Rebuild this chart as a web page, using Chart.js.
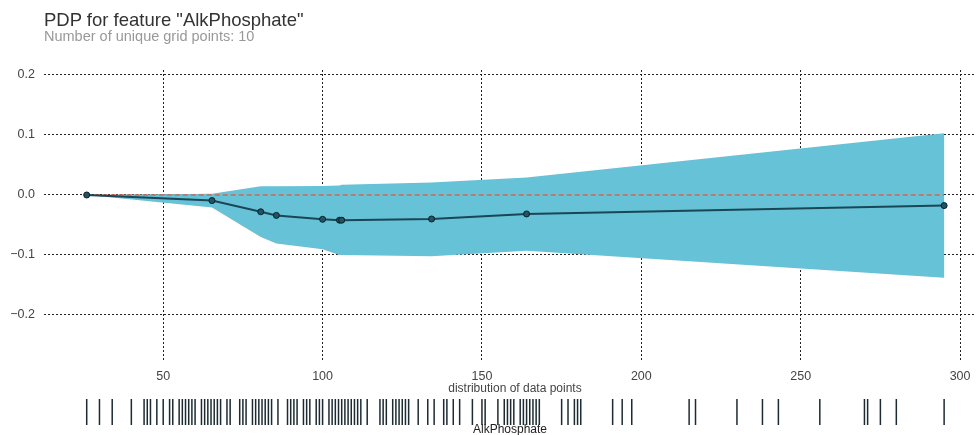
<!DOCTYPE html>
<html>
<head>
<meta charset="utf-8">
<script src="https://cdn.jsdelivr.net/npm/chart.js@4/dist/chart.umd.min.js"></script>
<style>
  html, body { margin: 0; padding: 0; background: #fff; }
  #wrap { position: relative; width: 976px; height: 435px; overflow: hidden; font-family: "Liberation Sans", Arial, sans-serif; }
  .txt { position: absolute; white-space: nowrap; }
  #title { left: 44px; top: 11px; font-size: 18.5px; line-height: 18.5px; color: #333; }
  #subtitle { left: 44px; top: 29px; font-size: 14.5px; line-height: 14.5px; color: #999; }
  #rugTitle { left: 0; width: 1030px; text-align: center; top: 382px; font-size: 12px; line-height: 12px; color: #444; }
  #rugLabel { left: 0; width: 1020px; text-align: center; top: 423px; font-size: 12px; line-height: 12px; color: #222; }
  #mainBox { position: absolute; left: 0; top: 0; width: 976px; height: 385px; }
  #rugBox { position: absolute; left: 0; top: 380px; width: 976px; height: 55px; }
</style>
</head>
<body>
<div id="wrap">
  <div id="mainBox"><canvas id="main" width="976" height="385"></canvas></div>
  <div id="rugBox"><canvas id="rug" width="976" height="55"></canvas></div>
  <div class="txt" id="title">PDP for feature "AlkPhosphate"</div>
  <div class="txt" id="subtitle">Number of unique grid points: 10</div>
  <div class="txt" id="rugTitle">distribution of data points</div>
  <div class="txt" id="rugLabel">AlkPhosphate</div>
</div>
<script>
// ---- data ----
const gridX  = [26, 65.3, 80.6, 85.5, 100, 105.3, 106, 134.2, 164, 295];
const pdpY   = [0, -0.0093, -0.028, -0.034, -0.0405, -0.042, -0.042, -0.040, -0.0316, -0.0177];
const upperY = [0, 0.002, 0.0145, 0.0145, 0.015, 0.016, 0.017, 0.021, 0.029, 0.103];
const lowerY = [0, -0.021, -0.070, -0.081, -0.0904, -0.100, -0.100, -0.102, -0.093, -0.138];
const xTicks = [50, 100, 150, 200, 250, 300];
const yTicks = [-0.2, -0.1, 0, 0.1, 0.2];
const rugValues = [26,30,34,40,44,45,46,48,50,52,53,55,56,57,58,59,60,62,63,64,65,66,67,68,70,71,74,75,76,78,79,80,81,82,83,84,86,89,90,91,92,94,95,96,98,99,100,102,103,104,105,106,107,108,109,110,111,112,114,118,119,120,122,123,124,125,126,127,130,133,135,138,139,141,143,147,150,151,155,157,158,159,160,162,163,164,165,166,167,168,175,177,179,180,181,191,194,197,215,217,230,238,243,256,270,271,275,280,295];

const X_MIN = 12.6, X_MAX = 305;
const Y_MIN = -0.275, Y_MAX = 0.2083;

const pts = (xs, ys) => xs.map((x, i) => ({ x: x, y: ys[i] }));

Chart.defaults.font.family = '"Liberation Sans", Arial, sans-serif';
Chart.defaults.animation = false;

new Chart(document.getElementById('main'), {
  type: 'line',
  data: {
    datasets: [
      {
        label: 'pdp',
        data: pts(gridX, pdpY),
        borderColor: '#1B4655',
        borderWidth: 2,
        pointRadius: 3,
        pointBackgroundColor: '#1F5566',
        pointBorderColor: '#0B1E24',
        pointBorderWidth: 1,
        tension: 0,
        fill: false,
        order: 0
      },
      {
        label: 'zero',
        data: [{ x: gridX[0], y: 0 }, { x: gridX[gridX.length - 1], y: 0 }],
        borderColor: '#E0614A',
        borderWidth: 1.5,
        borderDash: [5, 3],
        pointRadius: 0,
        fill: false,
        order: 1
      },
      {
        label: 'upper',
        data: pts(gridX, upperY),
        borderWidth: 0,
        borderColor: 'rgba(0,0,0,0)',
        backgroundColor: '#66C2D7',
        pointRadius: 0,
        tension: 0,
        fill: { target: 3 },
        order: 2
      },
      {
        label: 'lower',
        data: pts(gridX, lowerY),
        borderWidth: 0,
        borderColor: 'rgba(0,0,0,0)',
        pointRadius: 0,
        tension: 0,
        fill: false,
        order: 3
      }
    ]
  },
  options: {
    responsive: false,
    animation: false,
    layout: { autoPadding: false, padding: { top: 70, left: 0, right: 0, bottom: 0 } },
    plugins: { legend: { display: false }, tooltip: { enabled: false }, title: { display: false } },
    scales: {
      x: {
        type: 'linear',
        min: X_MIN, max: X_MAX,
        afterBuildTicks: s => { s.ticks = xTicks.map(v => ({ value: v })); },
        afterFit: s => { s.height = 25; s.paddingLeft = 0; s.paddingRight = 0; },
        grid: { color: '#222', lineWidth: 1, drawTicks: false },
        border: { display: false, dash: [2, 2] },
        ticks: { padding: 9, color: '#444', font: { size: 12.5 }, maxRotation: 0, callback: v => String(v) }
      },
      y: {
        type: 'linear',
        min: Y_MIN, max: Y_MAX,
        afterBuildTicks: s => { s.ticks = yTicks.map(v => ({ value: v })); },
        afterFit: s => { s.width = 44; s.paddingTop = 0; s.paddingBottom = 0; },
        grid: { color: '#222', lineWidth: 1, drawTicks: false },
        border: { display: false, dash: [2, 2] },
        ticks: {
          padding: 9, color: '#444', font: { size: 12.5 },
          callback: v => (v < -1e-9 ? '\u2212' : '') + Math.abs(v).toFixed(1)
        }
      }
    }
  }
});

new Chart(document.getElementById('rug'), {
  type: 'scatter',
  data: {
    datasets: [{
      data: rugValues.map(v => ({ x: v, y: 0.5 })),
      pointStyle: 'line',
      rotation: 90,
      radius: 13,
      borderColor: 'rgba(15,32,38,0.95)',
      borderWidth: 1.5,
      backgroundColor: 'rgba(15,32,38,0.95)'
    }]
  },
  options: {
    responsive: false,
    animation: false,
    layout: { autoPadding: false, padding: { top: 14, bottom: 5, left: 44, right: 0 } },
    plugins: { legend: { display: false }, tooltip: { enabled: false } },
    scales: {
      x: { type: 'linear', min: X_MIN, max: X_MAX, display: false },
      y: { type: 'linear', min: 0, max: 1, display: false }
    }
  }
});
</script>
</body>
</html>
